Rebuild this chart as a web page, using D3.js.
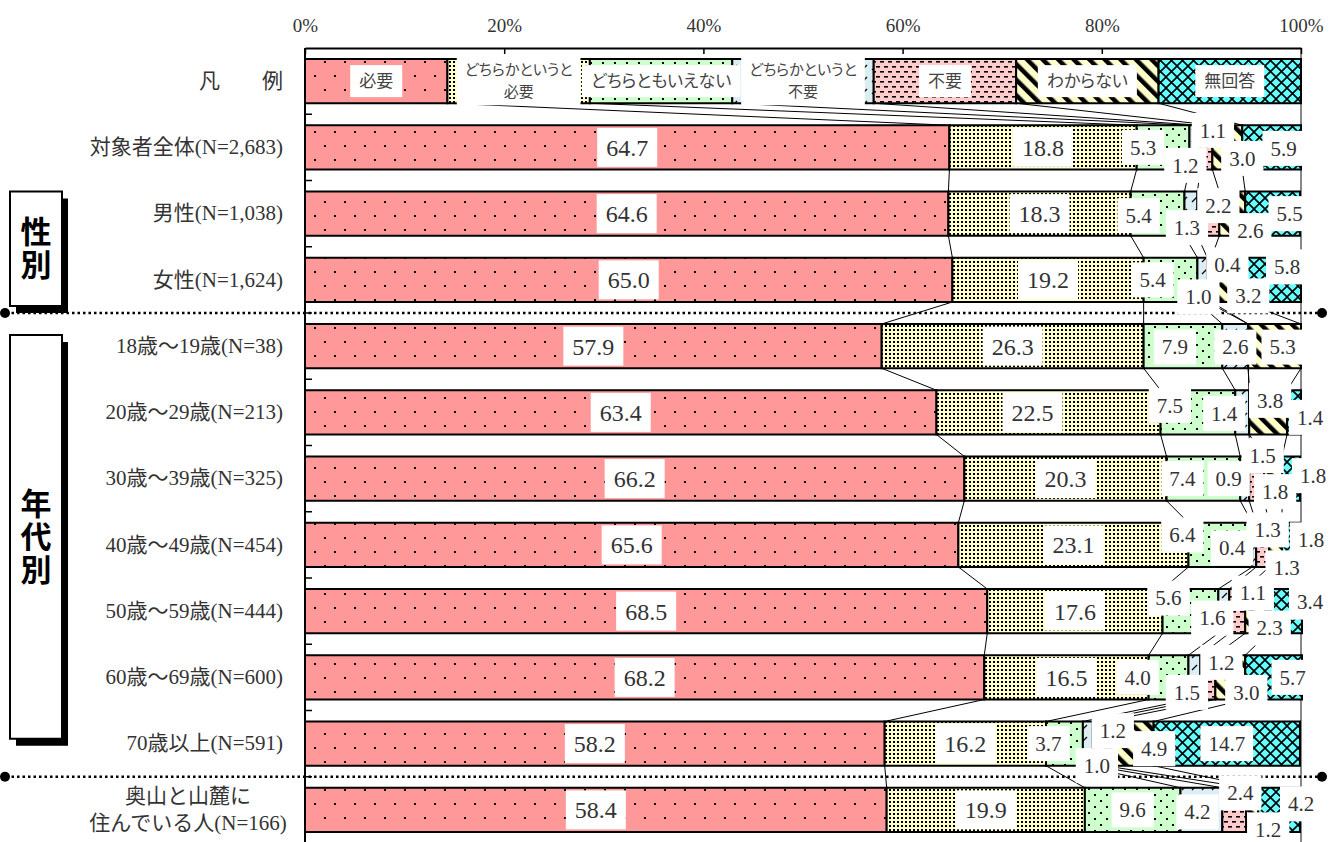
<!DOCTYPE html>
<html><head><meta charset="utf-8">
<script src="https://cdn.jsdelivr.net/npm/d3@7"></script>
<style>
body{margin:0;background:#fff}
svg{display:block}
</style>
</head><body>
<svg id="c" width="1341" height="842"></svg>
<script>
// ---------------- data ----------------
const categories = ["凡　　例","対象者全体(N=2,683)","男性(N=1,038)","女性(N=1,624)",
  "18歳～19歳(N=38)","20歳～29歳(N=213)","30歳～39歳(N=325)","40歳～49歳(N=454)",
  "50歳～59歳(N=444)","60歳～69歳(N=600)","70歳以上(N=591)","奥山と山麓に住んでいる人(N=166)"];
const seriesNames = ["必要","どちらかというと必要","どちらともいえない","どちらかというと不要","不要","わからない","無回答"];
const legendShare = [14.3,14.3,14.3,14.2,14.3,14.3,14.3];
const hitsuyo   = [64.7,64.6,65.0,57.9,63.4,66.2,65.6,68.5,68.2,58.2,58.4];
const yaHitsuyo = [18.8,18.3,19.2,26.3,22.5,20.3,23.1,17.6,16.5,16.2,19.9];
const dochiramo = [5.3,5.4,5.4,7.9,7.5,7.4,6.4,5.6,4.0,3.7,9.6];
const yaFuyo    = [1.1,1.3,1.0,2.6,1.4,0.9,0.4,1.1,1.2,1.0,4.2];
const fuyo      = [1.2,2.2,0.4,0.0,0.0,1.5,1.3,1.6,1.5,1.2,2.4];
const wakaranai = [3.0,2.6,3.2,5.3,3.8,1.8,1.3,2.3,3.0,4.9,1.2];
const mukaito   = [5.9,5.5,5.8,0.0,1.4,1.8,1.8,3.4,5.7,14.7,4.2];
const xTicks = [0,20,40,60,80,100];
const legendLines = [["必要"],["どちらかというと","必要"],["どちらともいえない"],["どちらかというと","不要"],["不要"],["わからない"],["無回答"]];
const groupNames = ["性別","年代別"];

// ---------------- layout (label nudges, px) ----------------
const labelNudge = [
  [[0,0],[0,0],[0,0],[0,0],[0,0],[0,0],[0,0],[0,0],[0,0],[0,0],[0,0]],
  [[0,0],[0,0],[0,0],[0,0],[-16,0],[0,0],[0,0],[0,0],[0,0],[0,0],[0,0]],
  [[-20,0],[-19,2],[-18,0],[-8,1],[-28,-7],[-21,0],[-38,-10],[-22,-13],[-31,0],[-16,0],[0,0]],
  [[18,-17],[-4,14],[-4,17],[0,1],[-18,1],[-16,0],[-22,3],[29,-18],[27,-15],[9,22],[-4,2]],
  [[-21,18],[10,-8],[18,-15],[0,0],[0,0],[6,-23],[5,-15],[-25,7],[-21,15],[14,-13],[6,-17]],
  [[15,11],[18,17],[21,16],[8,1],[2,-12],[2,13],[11,23],[13,17],[16,15],[25,5],[16,20]],
  [[12,1],[17,0],[15,-13],[0,0],[16,5],[22,-3],[20,-5],[25,-9],[19,0],[0,0],[22,-6]]
];

const SERIF = "'Liberation Serif','Noto Sans CJK JP',serif";
const JP = "'Noto Sans CJK JP',sans-serif";

const svg = d3.select('#c');
const x = d3.scaleLinear().domain([0,100]).range([305,1301]);
const y = d3.scaleBand().domain(categories).range([48,843]).paddingInner(0.332).paddingOuter(0.166);
const bw = y.bandwidth(), step = y.step(), gapHalf = (step-bw)/2;

const seriesData = [hitsuyo,yaHitsuyo,dochiramo,yaFuyo,fuyo,wakaranai,mukaito];
const table = categories.map((c,i)=>{
  const o = {cat:c};
  seriesNames.forEach((s,k)=>{ o[s] = i===0 ? legendShare[k] : seriesData[k][i-1]; });
  return o;
});
const stacked = d3.stack().keys(seriesNames)(table);

// ---------------- patterns ----------------
const defs = svg.append('defs');
function pat(id,w,h,bg,draw,transform){
  const p = defs.append('pattern').attr('id',id).attr('patternUnits','userSpaceOnUse')
    .attr('width',w).attr('height',h);
  if(transform) p.attr('patternTransform',transform);
  p.append('rect').attr('width',w).attr('height',h).attr('fill',bg);
  draw(p);
}
pat('p0',20,28,'#FF9999',p=>{
  p.append('rect').attr('x',4).attr('y',5).attr('width',2).attr('height',2).attr('fill','#000');
  p.append('rect').attr('x',14).attr('y',19).attr('width',2).attr('height',2).attr('fill','#000');
});
pat('p1',4,4,'#FFFFCC',p=>{
  p.append('rect').attr('x',1).attr('y',1).attr('width',2).attr('height',2).attr('fill','#000');
});
pat('p2',12,12,'#CCFFCC',p=>{
  p.append('rect').attr('x',2).attr('y',2).attr('width',2).attr('height',2).attr('fill','#000');
  p.append('rect').attr('x',8).attr('y',8).attr('width',2).attr('height',2).attr('fill','#000');
});
pat('p3',10,12,'#DAEEF3',p=>{
  p.append('path').attr('d','M2,10L7,5').attr('stroke','#000').attr('stroke-width',1.3);
});
pat('p4',8,10,'#FFCCCC',p=>{
  p.append('rect').attr('x',0).attr('y',1).attr('width',4).attr('height',1.6).attr('fill','#000');
  p.append('rect').attr('x',4).attr('y',6).attr('width',4).attr('height',1.6).attr('fill','#000');
});
pat('p5',11,11,'#FFFFCC',p=>{
  p.append('rect').attr('x',0).attr('y',0).attr('width',4.5).attr('height',11).attr('fill','#000');
},'rotate(-45)');
pat('p6',11,11,'#66FFFF',p=>{
  p.append('path').attr('d','M0,0L11,11M11,0L0,11').attr('stroke','#000').attr('stroke-width',1.6);
});

// ---------------- frame & axes ----------------
svg.append('line').attr('x1',x(100)).attr('x2',x(100)).attr('y1',48).attr('y2',842)
  .attr('stroke','#888').attr('stroke-width',2);

const xAxis = svg.append('g').attr('transform','translate(0,48)')
  .call(d3.axisTop(x).tickValues(xTicks).tickFormat(d=>d+'%').tickSizeInner(-6).tickSizeOuter(0).tickPadding(16));
xAxis.select('.domain').attr('stroke','#000').attr('stroke-width',2);
xAxis.selectAll('.tick line').attr('stroke','#000').attr('stroke-width',1.5);
xAxis.selectAll('.tick text').attr('font-family',SERIF).attr('font-size',19).attr('fill','#333');

const yAxis = svg.append('g').attr('transform',`translate(${x(0)},0)`)
  .call(d3.axisLeft(y).tickSize(0).tickPadding(22));
yAxis.select('.domain').remove();
yAxis.selectAll('.tick text').attr('font-family',SERIF).attr('font-size',21).attr('fill','#333');
yAxis.selectAll('.tick').filter(d=>d===categories[categories.length-1]).select('text')
  .each(function(){
    const t = d3.select(this); t.text(null).attr('text-anchor','middle').attr('x',-117).attr('dy',null);
    t.append('tspan').attr('x',-117).attr('dy','-0.35em').text('奥山と山麓に');
    t.append('tspan').attr('x',-117).attr('dy','1.33em').text('住んでいる人(N=166)');
  });
svg.append('line').attr('x1',x(0)).attr('x2',x(0)).attr('y1',48).attr('y2',842)
  .attr('stroke','#000').attr('stroke-width',2);
categories.slice(1).forEach(c=>{
  const yb = y(c)-gapHalf;
  svg.append('line').attr('x1',x(0)).attr('x2',x(0)+7).attr('y1',yb).attr('y2',yb)
    .attr('stroke','#000').attr('stroke-width',1.5);
});

// ---------------- series lines ----------------
const gLines = svg.append('g');
for(let i=0;i<categories.length-1;i++){
  for(let k=0;k<seriesNames.length-1;k++){
    gLines.append('line')
      .attr('x1',x(stacked[k][i][1])).attr('y1',y(categories[i])+bw)
      .attr('x2',x(stacked[k][i+1][1])).attr('y2',y(categories[i+1]))
      .attr('stroke','#000').attr('stroke-width',1);
  }
}

// ---------------- bars ----------------
const gBars = svg.append('g');
stacked.forEach((s,k)=>{
  gBars.selectAll(null).data(s.filter(d=>d[1]-d[0]>0)).join('rect')
    .attr('x',d=>x(d[0])).attr('y',d=>y(d.data.cat))
    .attr('width',d=>x(d[1])-x(d[0])).attr('height',bw)
    .attr('fill',`url(#p${k})`).attr('stroke','#000').attr('stroke-width',2);
});

// ---------------- separators ----------------
[categories[4],categories[11]].forEach(c=>{
  const yb = y(c)-gapHalf;
  svg.append('line').attr('x1',6).attr('x2',1321).attr('y1',yb).attr('y2',yb)
    .attr('stroke','#000').attr('stroke-width',2.5).attr('stroke-dasharray','2.5,3');
  svg.append('circle').attr('cx',5).attr('cy',yb).attr('r',5).attr('fill','#000');
  svg.append('circle').attr('cx',1322).attr('cy',yb).attr('r',5).attr('fill','#000');
});

// ---------------- legend labels ----------------
const gLeg = svg.append('g');
stacked.forEach((s,k)=>{
  const d = s[0];
  const cx = x((d[0]+d[1])/2), cy = y(categories[0])+bw/2;
  const lines = legendLines[k];
  const two = lines.length>1;
  const g = gLeg.append('g');
  const r = g.append('rect').attr('fill','#fff');
  const t = g.append('text').attr('font-family',JP).attr('font-size',two?15:17).attr('fill','#444')
    .attr('text-anchor','middle').style('font-feature-settings',"'palt'");
  const lh = 22;
  lines.forEach((ln,j)=>{
    t.append('tspan').attr('x',cx).attr('y',cy + (j-(lines.length-1)/2)*lh).attr('dy','0.35em').text(ln);
  });
  const bb = t.node().getBBox();
  if(two){
    const w = bb.width+16;
    r.attr('x',cx-w/2).attr('width',w).attr('y',y(categories[0])-2).attr('height',bw+4);
  } else {
    const w = bb.width+18;
    r.attr('x',cx-w/2).attr('width',w).attr('y',cy-16).attr('height',32);
  }
});

// ---------------- value labels ----------------
const gLab = svg.append('g');
stacked.forEach((s,k)=>{
  for(let i=1;i<categories.length;i++){
    const d = s[i], v = seriesData[k][i-1];
    if(!(v>0)) continue;
    const nd = labelNudge[k][i-1];
    const cx = x((d[0]+d[1])/2)+nd[0], cy = y(categories[i])+bw/2+nd[1];
    const big = k<2;
    const fs = big?24:21;
    const g = gLab.append('g');
    const r = g.append('rect').attr('fill','#fff');
    const t = g.append('text').attr('x',cx).attr('y',cy).attr('dy','0.35em')
      .attr('text-anchor','middle').attr('font-family',SERIF).attr('font-size',fs).attr('fill','#333')
      .text(d3.format('.1f')(v));
    const tw = t.node().getComputedTextLength();
    const w = tw + (big?18:16), h = big?39:35;
    r.attr('x',cx-w/2).attr('y',cy-h/2).attr('width',w).attr('height',h);
  }
});

// ---------------- group boxes ----------------
const groupSpans = [
  [y(categories[2]), y(categories[3])+bw+4],
  [y(categories[4])+11, y(categories[10])+bw-27]
];
groupNames.forEach((name,gi)=>{
  const [t0,t1] = groupSpans[gi];
  svg.append('rect').attr('x',16).attr('y',t0+7).attr('width',52).attr('height',t1-t0).attr('fill','#000');
  svg.append('rect').attr('x',10).attr('y',t0).attr('width',52).attr('height',t1-t0)
    .attr('fill','#fff').attr('stroke','#000').attr('stroke-width',2);
  svg.append('text').attr('x',36).attr('y',(t0+t1)/2)
    .attr('writing-mode','vertical-rl').style('writing-mode','vertical-rl')
    .attr('text-anchor','middle').attr('font-family',JP).attr('letter-spacing',2)
    .attr('font-weight','bold').attr('font-size',31).attr('fill','#000').text(name);
});
</script>
</body></html>
